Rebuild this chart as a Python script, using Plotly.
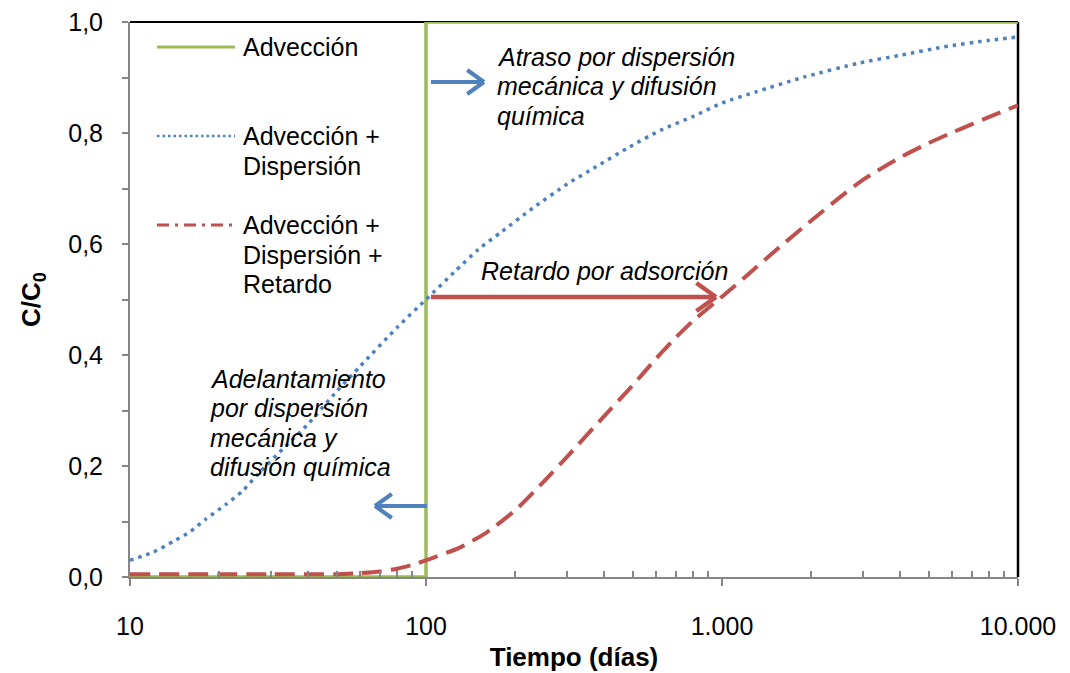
import plotly.graph_objects as go

# Tiempo (días) y concentración relativa C/C0
t_adv = [10, 100, 100, 10000]
c_adv = [0, 0, 1, 1]

t_disp = [10, 12, 14, 16, 18, 21, 24, 27, 33, 40, 50, 60, 80, 100, 125, 150,
          180, 230, 300, 375, 480, 620, 800, 1000, 1300, 1900, 2900, 4000,
          5600, 8000, 10000]
c_disp = [0.03, 0.045, 0.064, 0.082, 0.104, 0.13, 0.155, 0.185, 0.232, 0.276,
          0.335, 0.38, 0.45, 0.50, 0.55, 0.59, 0.622, 0.665, 0.708, 0.739,
          0.773, 0.805, 0.83, 0.854, 0.874, 0.901, 0.926, 0.94, 0.955, 0.967,
          0.973]

t_ret = [10, 30, 50, 60, 70, 80, 90, 100, 130, 160, 200, 250, 300, 400, 500,
         600, 700, 800, 1000, 1200, 1500, 2000, 2500, 3000, 4000, 5000, 6000,
         7000, 8000, 10000]
c_ret = [0.005, 0.005, 0.005, 0.007, 0.01, 0.015, 0.022, 0.03, 0.053, 0.08,
         0.12, 0.172, 0.217, 0.29, 0.346, 0.394, 0.432, 0.462, 0.505, 0.541,
         0.586, 0.642, 0.684, 0.716, 0.756, 0.782, 0.801, 0.816, 0.829, 0.85]

x_ticks = [10, 100, 1000, 10000]
x_ticktext = ["10", "100", "1.000", "10.000"]
x_minor = [20, 30, 40, 50, 60, 70, 80, 90,
           200, 300, 400, 500, 600, 700, 800, 900,
           2000, 3000, 4000, 5000, 6000, 7000, 8000, 9000]

GREEN = "#9BBB59"
BLUE = "#4F81BD"
RED = "#C0504D"
AXIS = "#868686"
FONT = "Arial, Liberation Sans, sans-serif"

# área de trazado en pantalla (px): x 130..1018, y 22..577
def px(x):
    return (x - 130) / 888

def py(y):
    return (577 - y) / 555

fig = go.Figure()

fig.add_trace(go.Scatter(x=t_adv, y=c_adv, mode="lines", name="Advección",
                         line=dict(color=GREEN, width=3.5)))
fig.add_trace(go.Scatter(x=t_ret, y=c_ret, mode="lines",
                         name="Advección + Dispersión + Retardo",
                         line=dict(color=RED, width=4, dash="20px,9px",
                                   shape="spline", smoothing=0.6)))
fig.add_trace(go.Scatter(x=t_disp, y=c_disp, mode="lines",
                         name="Advección + Dispersión",
                         line=dict(color=BLUE, width=3.5, dash="3.5px,5px",
                                   shape="spline", smoothing=0.6)))

# marco superior y derecho (negro)
fig.add_shape(type="line", xref="paper", yref="paper", x0=0, x1=1, y0=1, y1=1,
              line=dict(color="black", width=2), layer="below")
fig.add_shape(type="line", xref="paper", yref="paper", x0=1, x1=1, y0=0, y1=1,
              line=dict(color="black", width=2.5), layer="below")

# leyenda manual
legend_items = [
    (GREEN, "solid", 3, ["Advección"], 47),
    (BLUE, "2.5px,3px", 2.5, ["Advección +", "Dispersión"], 136),
    (RED, "12px,6px,3px,6px", 3, ["Advección +", "Dispersión +", "Retardo"], 225),
]
for color, dash, w, lines, y0 in legend_items:
    fig.add_shape(type="line", xref="paper", yref="paper",
                  x0=px(157), x1=px(235), y0=py(y0), y1=py(y0),
                  line=dict(color=color, width=w, dash=dash))
    for i, txt in enumerate(lines):
        fig.add_annotation(text=txt, xref="paper", yref="paper",
                           x=px(241), y=py(y0 + 29.5 * i),
                           xanchor="left", yanchor="middle", showarrow=False,
                           font=dict(size=25, color="black", family=FONT))

# textos explicativos
notes = [
    (["Atraso por dispersión", "mecánica y difusión", "química"], 495, 57),
    (["Retardo por adsorción"], 479, 271),
    (["Adelantamiento", "por dispersión", "mecánica y", "difusión química"], 208, 379),
]
for lines, x0, y0 in notes:
    for i, txt in enumerate(lines):
        fig.add_annotation(text="<i>" + txt + "</i>", xref="paper", yref="paper",
                           x=px(x0), y=py(y0 + 29.3 * i),
                           xanchor="left", yanchor="middle", showarrow=False,
                           font=dict(size=25, color="black", family=FONT))

# flechas (cuerpo + punta abierta)
arrows = [
    ((431, 82), (484, 82), BLUE, 4, 12),
    ((427, 506), (375, 506), BLUE, 4, 12),
    ((431, 297), (716, 297), RED, 4.5, 14),
]
for (xa, ya), (xb, yb), color, w, h in arrows:
    d = 1 if xb > xa else -1
    segs = [((xa, ya), (xb, yb)),
            ((xb, yb), (xb - d * 1.4 * h, yb - h)),
            ((xb, yb), (xb - d * 1.4 * h, yb + h))]
    for (x0, y0), (x1, y1) in segs:
        fig.add_shape(type="line", xref="paper", yref="paper",
                      x0=px(x0), y0=py(y0), x1=px(x1), y1=py(y1),
                      line=dict(color=color, width=w))

fig.update_layout(
    width=1062, height=665,
    margin=dict(l=122, r=52, t=14, b=96),
    paper_bgcolor="white", plot_bgcolor="white",
    font=dict(family=FONT, color="black", size=25),
    separators=",.",
    showlegend=False,
    xaxis=dict(
        type="log", range=[1, 4], automargin=False,
        tickvals=x_ticks, ticktext=x_ticktext,
        ticks="outside", ticklen=7, tickwidth=2, tickcolor=AXIS,
        ticklabelstandoff=19, ticklabeloverflow="allow",
        minor=dict(tickvals=x_minor, ticks="inside", ticklen=6,
                   tickwidth=1.5, tickcolor=AXIS, showgrid=False),
        showline=True, linecolor=AXIS, linewidth=2,
        showgrid=False, zeroline=False,
        tickfont=dict(size=25, family=FONT),
        title=dict(text="<b>Tiempo (días)</b>", standoff=9,
                   font=dict(size=26, family=FONT)),
    ),
    yaxis=dict(
        range=[0, 1], dtick=0.2, tickformat=".1f", automargin=False,
        ticks="outside", ticklen=6, tickwidth=1.5, tickcolor=AXIS,
        ticklabelstandoff=14, ticklabeloverflow="allow",
        minor=dict(dtick=0.1, ticks="outside", ticklen=6, tickwidth=1.5,
                   tickcolor=AXIS, showgrid=False),
        showline=True, linecolor=AXIS, linewidth=2,
        showgrid=False, zeroline=False,
        tickfont=dict(size=25, family=FONT),
        title=dict(text="<b>C/C<sub>0</sub></b>", standoff=20,
                   font=dict(size=26, family=FONT)),
    ),
)

fig.write_html("out.html")
